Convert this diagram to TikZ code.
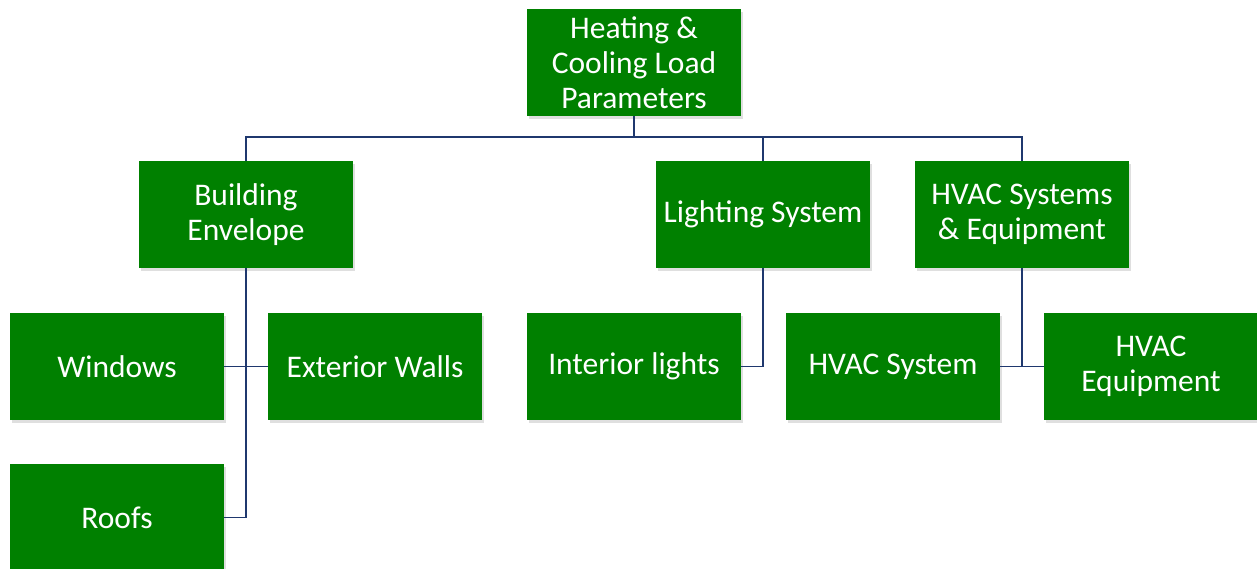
\documentclass[tikz,border=0pt]{standalone}
\usepackage{fontspec}
\setmainfont{Carlito}
\usetikzlibrary{shadows}
\definecolor{boxgreen}{RGB}{0,128,0}
\definecolor{linknavy}{RGB}{31,56,110}
\begin{document}
\begin{tikzpicture}[x=1pt,y=-1pt,
  box/.style={fill=boxgreen, draw=none, minimum width=214pt, minimum height=107pt,
    inner sep=0pt, align=center, text=white,
    font=\fontsize{31.5}{35}\selectfont,
    drop shadow={opacity=0.25, shadow xshift=2pt, shadow yshift=-3pt}},
  link/.style={draw=linknavy, line width=1.6pt}]
\useasboundingbox (0,0) rectangle (1257,569);
\node[box] (top) at (634,62.5) {Heating \&\\Cooling Load\\Parameters};
\node[box] (be) at (246,214.5) {Building\\Envelope};
\node[box] (ls) at (763,214.5) {Lighting System};
\node[box] (hv) at (1022,214.5) {HVAC Systems\\\& Equipment};
\node[box] (win) at (117,366.5) {Windows};
\node[box] (ew) at (375,366.5) {Exterior Walls};
\node[box] (il) at (634,366.5) {Interior lights};
\node[box] (hs) at (893,366.5) {HVAC System};
\node[box] (he) at (1151,366.5) {HVAC\\Equipment};
\node[box] (rf) at (117,517.5) {Roofs};
\coordinate (bus) at (634,137);
\draw[link] (top.south) -- (bus);
\draw[link] (be.north) |- (bus) -| (hv.north);
\draw[link] (ls.north) -- (ls.north |- bus);
\draw[link] (be.south) |- (rf.east);
\draw[link] (win.east) -- (ew.west);
\draw[link] (ls.south) |- (il.east);
\draw[link] (hv.south) -- (hv.south |- hs.east);
\draw[link] (hs.east) -- (he.west);
\end{tikzpicture}
\end{document}
